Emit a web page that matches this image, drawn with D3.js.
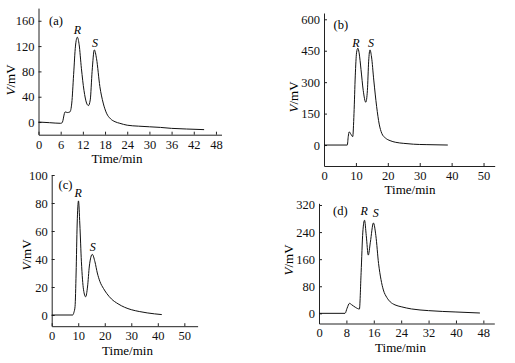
<!DOCTYPE html>
<html>
<head>
<meta charset="utf-8">
<script src="https://cdn.jsdelivr.net/npm/d3@7"></script>
<style>
  body { margin: 0; background: #fff; }
  svg { display: block; font-family: "Liberation Serif", "Times New Roman", Times, serif; }
  .axis path, .axis line { stroke: #222; stroke-width: 1; }
  .axis text { font-size: 12.5px; fill: #111; font-family: "Liberation Serif", "Times New Roman", Times, serif; }
</style>
</head>
<body>
<svg id="chart" width="515" height="363"></svg>
<script>
// chromatogram (a)
const timeA = [0, 3, 6, 6.4, 7.2, 7.8, 8.5, 9.0, 9.5, 10.0, 10.5, 11.0, 11.6, 12.3, 13.0, 13.5, 14.0, 14.5, 15.1, 15.7, 16.6, 17.5, 18.4, 19.5, 20.7, 22, 24, 27, 30, 33, 36, 40, 44.8];
const signalA = [0, -1, -2, -1, 16, 15, 16, 30, 75, 120, 134, 122, 85, 50, 30, 26, 35, 80, 114, 100, 56, 30, 14, 5, 0.5, -2, -5, -6.5, -7.5, -8.5, -10, -11, -12];
const xTicksA = [0, 6, 12, 18, 24, 30, 36, 42, 48];
const yTicksA = [0, 40, 80, 120, 160];

// chromatogram (b)
const timeB = [0, 7.3, 7.6, 7.9, 8.3, 9.0, 9.4, 9.8, 10.2, 10.6, 11.0, 11.6, 12.3, 13.1, 13.6, 14.0, 14.4, 14.9, 15.6, 16.5, 17.3, 18.1, 19.3, 20.7, 22.5, 25, 28, 32, 38.8];
const signalB = [0, 0, 40, 63, 55, 40, 150, 330, 440, 462, 440, 360, 260, 204, 260, 400, 454, 420, 310, 183, 100, 56, 33, 21, 13, 8, 4, 2, 0];
const xTicksB = [0, 10, 20, 30, 40, 50];
const yTicksB = [0, 150, 300, 450, 600];

// chromatogram (c)
const timeC = [0, 7.9, 8.4, 8.8, 9.2, 9.6, 10.1, 10.6, 11.2, 12.0, 12.8, 13.5, 14.2, 15.3, 16.3, 17.2, 18.2, 19.5, 20.7, 22.5, 25, 27.5, 30, 33, 36, 41.5];
const signalC = [0, 0, 2, 6, 30, 65, 81.5, 65, 38, 18, 13, 20, 35, 43.3, 38, 30, 23.8, 19, 15.5, 11.5, 8, 5.5, 3.8, 2.5, 1.5, 0.3];
const xTicksC = [0, 10, 20, 30, 40, 50];
const yTicksC = [0, 20, 40, 60, 80, 100];

// chromatogram (d)
const timeD = [0, 7.6, 8.2, 8.9, 9.6, 10.6, 11.8, 12.3, 12.8, 13.3, 13.8, 14.4, 15.0, 15.9, 16.6, 17.4, 18.1, 18.8, 19.8, 20.8, 22.2, 24, 27, 32, 40, 47];
const signalD = [0, 0, 15, 29.5, 25, 18, 12.7, 120, 240, 275, 230, 172, 210, 267, 230, 147, 100, 69, 47, 34, 25, 19.5, 13, 8, 4, 1];
const xTicksD = [0, 8, 16, 24, 32, 40, 48];
const yTicksD = [0, 80, 160, 240, 320];

// peak labels (time, signal where the letter sits)
const peaksA = [["R", 10.5, 145], ["S", 15.3, 125]];
const peaksB = [["R", 10.0, 490], ["S", 14.7, 490]];
const peaksC = [["R", 10.0, 87], ["S", 15.5, 48.4]];
const peaksD = [["R", 13.2, 302], ["S", 16.6, 298]];

// panel layout in pixels
const panels = [
  { id: "(a)", t: timeA, v: signalA, xt: xTicksA, yt: yTicksA, peaks: peaksA,
    xd: [0, 49.5], xr: [38.5, 221.5], yd: [-20, 180], yr: [134.7, 8.1],
    tag: [49, 21], ylab: [10, 80], xlab: [117, 158] },
  { id: "(b)", t: timeB, v: signalB, xt: xTicksB, yt: yTicksB, peaks: peaksB,
    xd: [0, 53.5], xr: [324, 494.7], yd: [-100, 630], yr: [166, 13],
    tag: [333.5, 25], ylab: [293, 97], xlab: [410, 189] },
  { id: "(c)", t: timeC, v: signalC, xt: xTicksC, yt: yTicksC, peaks: peaksC,
    xd: [0, 55], xr: [51.7, 197.6], yd: [-8, 100], yr: [326.2, 175],
    tag: [58.5, 185], ylab: [26.5, 255], xlab: [127.5, 350.5] },
  { id: "(d)", t: timeD, v: signalD, xt: xTicksD, yt: yTicksD, peaks: peaksD,
    xd: [0, 51.2], xr: [319, 494.3], yd: [-30, 325], yr: [323.5, 203.3],
    tag: [333, 211], ylab: [288, 260], xlab: [400.5, 347] }
];

const svg = d3.select("#chart");

panels.forEach(function (p) {
  const x = d3.scaleLinear().domain(p.xd).range(p.xr);
  const y = d3.scaleLinear().domain(p.yd).range(p.yr);
  const g = svg.append("g");

  // axes with inward ticks
  g.append("g")
    .attr("class", "axis")
    .attr("transform", `translate(0,${p.yr[0]})`)
    .call(d3.axisBottom(x).tickValues(p.xt).tickFormat(d3.format("d"))
      .tickSizeInner(-3).tickSizeOuter(0).tickPadding(5));

  g.append("g")
    .attr("class", "axis")
    .attr("transform", `translate(${p.xr[0]},0)`)
    .call(d3.axisLeft(y).tickValues(p.yt).tickFormat(d3.format("d"))
      .tickSizeInner(-3).tickSizeOuter(0).tickPadding(4));

  // trace
  const line = d3.line()
    .x((d, i) => x(p.t[i]))
    .y(d => y(d))
    .curve(d3.curveMonotoneX);
  g.append("path")
    .datum(p.v)
    .attr("d", line)
    .attr("fill", "none")
    .attr("stroke", "#111")
    .attr("stroke-width", 1);

  // peak letters
  g.selectAll(".peak")
    .data(p.peaks)
    .join("text")
    .attr("class", "peak")
    .attr("x", d => x(d[1]))
    .attr("y", d => y(d[2]))
    .attr("dy", "0.35em")
    .attr("text-anchor", "middle")
    .attr("font-style", "italic")
    .attr("font-size", 12)
    .text(d => d[0]);

  // panel tag
  g.append("text")
    .attr("x", p.tag[0]).attr("y", p.tag[1])
    .attr("dy", "0.35em")
    .attr("font-size", 12.5)
    .text(p.id);

  // axis titles
  g.append("text")
    .attr("x", p.xlab[0]).attr("y", p.xlab[1])
    .attr("dy", "0.35em")
    .attr("text-anchor", "middle")
    .attr("font-size", 13)
    .text("Time/min");

  const yl = g.append("text")
    .attr("transform", `translate(${p.ylab[0]},${p.ylab[1]}) rotate(-90)`)
    .attr("dy", "0.35em")
    .attr("text-anchor", "middle")
    .attr("font-size", 13);
  yl.append("tspan").attr("font-style", "italic").text("V");
  yl.append("tspan").text("/mV");
});
</script>
</body>
</html>
